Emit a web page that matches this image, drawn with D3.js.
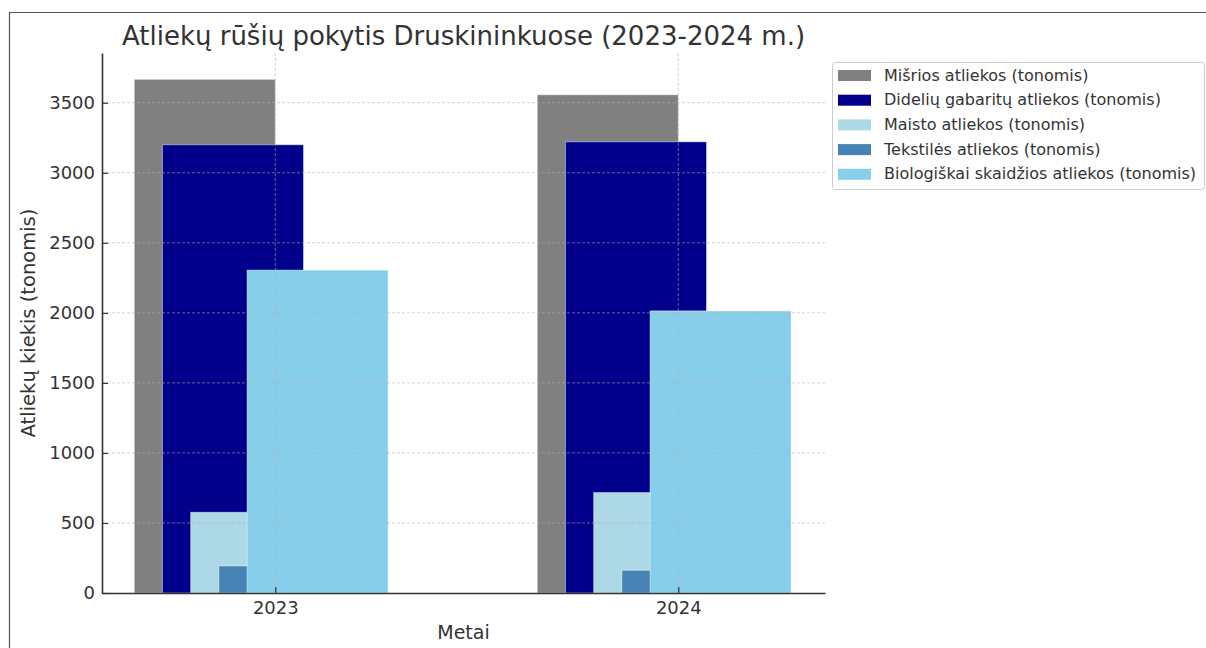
<!DOCTYPE html>
<html lang="lt">
<head>
  <meta charset="UTF-8">
  <title>Atliekų rūšių pokytis</title>
  <script src="https://cdn.jsdelivr.net/npm/d3@7"></script>
  <style>
    body { margin: 0; background: #fff; }
    text { font-family: "DejaVu Sans", sans-serif; fill: #333; }
  </style>
</head>
<body>
  <svg width="1206" height="648"></svg>
  <script>
    var years = [2023, 2024];
    var seriesNames = [
      'Mišrios atliekos (tonomis)',
      'Didelių gabaritų atliekos (tonomis)',
      'Maisto atliekos (tonomis)',
      'Tekstilės atliekos (tonomis)',
      'Biologiškai skaidžios atliekos (tonomis)'
    ];
    var misrios = [3667, 3557];
    var dideliu = [3200, 3221];
    var maisto = [576, 717];
    var tekstiles = [193, 162];
    var biologiskai = [2305, 2014];
    var colors = ['#808080', '#00008b', '#add8e6', '#4682b4', '#87ceeb'];
    var yTicks = [0, 500, 1000, 1500, 2000, 2500, 3000, 3500];

    var allSeries = [misrios, dideliu, maisto, tekstiles, biologiskai];
    var barWidth = 0.35, step = 0.07;

    var svg = d3.select('svg');
    var margin = {top: 53, left: 102, right: 381, bottom: 55};
    var width = 1206 - margin.left - margin.right;
    var height = 648 - margin.top - margin.bottom;

    // frame around the figure
    svg.append('path')
      .attr('d', 'M9.5,648 V12.5 H1206')
      .attr('fill', 'none')
      .attr('stroke', '#555')
      .attr('stroke-width', 1.2);

    var chart = svg.append('g')
      .attr('transform', 'translate(' + margin.left + ',' + margin.top + ')');

    var x = d3.scaleLinear().domain([2022.57, 2024.364]).range([0, width]);
    var y = d3.scaleLinear().domain([0, 3855]).range([height, 0]);

    allSeries.forEach(function(vals, i) {
      chart.selectAll('.bar' + i)
        .data(vals)
        .enter().append('rect')
        .attr('class', 'bar' + i)
        .attr('x', function(d, j) { return x(years[j] + (i - 2.5) * step - barWidth / 2); })
        .attr('width', x(barWidth) - x(0))
        .attr('y', function(d) { return y(d); })
        .attr('height', function(d) { return y(0) - y(d); })
        .attr('fill', colors[i])
        .attr('stroke', '#fff')
        .attr('stroke-opacity', 0.45)
        .attr('stroke-width', 1);
    });

    // grid on top of bars
    chart.append('g').selectAll('line')
      .data(yTicks.slice(1))
      .enter().append('line')
      .attr('x1', 0).attr('x2', width)
      .attr('y1', function(d) { return y(d); })
      .attr('y2', function(d) { return y(d); })
      .attr('stroke', '#b0b0b0').attr('stroke-opacity', 0.7)
      .attr('stroke-dasharray', '3,2').attr('stroke-width', 0.8);
    chart.append('g').selectAll('line')
      .data(years)
      .enter().append('line')
      .attr('x1', function(d) { return x(d); })
      .attr('x2', function(d) { return x(d); })
      .attr('y1', 0).attr('y2', height)
      .attr('stroke', '#b0b0b0').attr('stroke-opacity', 0.7)
      .attr('stroke-dasharray', '3,2').attr('stroke-width', 0.8);

    var xAxis = d3.axisBottom(x).tickValues(years).tickFormat(d3.format('d'))
      .tickSizeInner(-6).tickSizeOuter(0).tickPadding(8);
    var gx = chart.append('g')
      .attr('transform', 'translate(0,' + height + ')')
      .call(xAxis);
    var yAxis = d3.axisLeft(y).tickValues(yTicks).tickFormat(d3.format('d'))
      .tickSizeInner(-6).tickSizeOuter(0).tickPadding(7);
    var gy = chart.append('g').call(yAxis);

    [gx, gy].forEach(function(g) {
      g.select('.domain').attr('stroke', '#333').attr('stroke-width', 1.6);
      g.selectAll('.tick line').attr('stroke', '#333').attr('stroke-width', 1.2);
      g.selectAll('.tick text').style('font-size', '18px').attr('fill', '#333');
    });

    // titles
    svg.append('text')
      .attr('x', margin.left + width / 2).attr('y', 45)
      .attr('text-anchor', 'middle')
      .style('font-size', '26px')
      .text('Atliekų rūšių pokytis Druskininkuose (2023-2024 m.)');
    svg.append('text')
      .attr('x', margin.left + width / 2).attr('y', 639)
      .attr('text-anchor', 'middle')
      .style('font-size', '19px')
      .text('Metai');
    svg.append('text')
      .attr('transform', 'translate(35,' + (margin.top + height / 2) + ') rotate(-90)')
      .attr('text-anchor', 'middle')
      .style('font-size', '19.5px')
      .text('Atliekų kiekis (tonomis)');

    // legend
    var legend = svg.append('g').attr('transform', 'translate(832,62)');
    legend.append('rect')
      .attr('x', 0.5).attr('y', 0.5)
      .attr('width', 372).attr('height', 127)
      .attr('rx', 3)
      .attr('fill', '#fff').attr('stroke', '#ccc');
    var item = legend.selectAll('.item')
      .data(seriesNames)
      .enter().append('g')
      .attr('class', 'item')
      .attr('transform', function(d, i) { return 'translate(0,' + (13 + i * 24.7) + ')'; });
    item.append('rect')
      .attr('x', 6).attr('y', -5)
      .attr('width', 33).attr('height', 11)
      .attr('fill', function(d, i) { return colors[i]; });
    item.append('text')
      .attr('x', 52).attr('y', 0)
      .attr('dy', '0.35em')
      .style('font-size', '16px')
      .text(function(d) { return d; });
  </script>
</body>
</html>
